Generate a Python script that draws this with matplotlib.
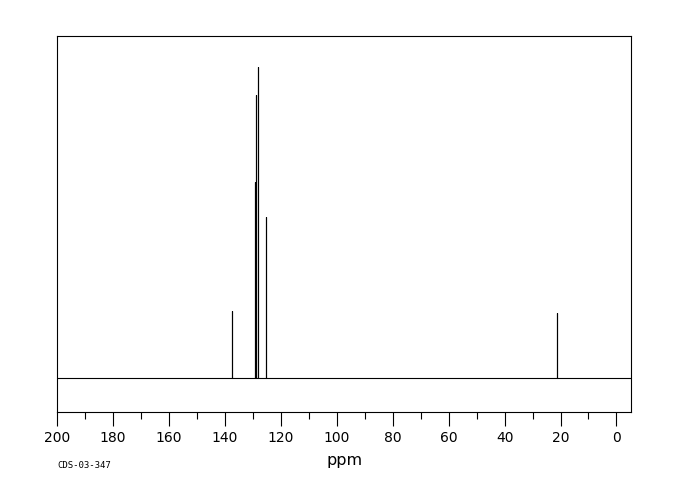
import matplotlib
matplotlib.use("Agg")
import matplotlib.pyplot as plt
from matplotlib.ticker import MultipleLocator

# Peak list (ppm, height above baseline)
peak_ppm = [137.6, 129.2, 128.8, 128.1, 125.4, 21.4]
peak_height = [67, 196, 283, 311, 161, 65]
major_ticks = [200, 180, 160, 140, 120, 100, 80, 60, 40, 20, 0]

x_left, x_right = 200, -5.2

# Build the stick spectrum as one continuous trace along the baseline
xs = [x_left]
ys = [0]
for p, h in sorted(zip(peak_ppm, peak_height), reverse=True):
    xs += [p, p, p]
    ys += [0, h, 0]
xs.append(x_right)
ys.append(0)

fig = plt.figure(figsize=(6.8, 5), dpi=100)
ax = fig.add_axes([57 / 680, 1 - 412 / 500, 574 / 680, 376 / 500])

ax.plot(xs, ys, color="black", linewidth=0.8)

ax.set_xlim(x_left, x_right)
ax.set_ylim(-34, 342)

ax.set_xticks(major_ticks)
ax.xaxis.set_minor_locator(MultipleLocator(10))
ax.tick_params(axis="x", which="major", direction="out", length=10, width=0.8, pad=4, labelsize=10)
ax.tick_params(axis="x", which="minor", direction="out", length=5, width=0.8)
ax.set_yticks([])
for s in ax.spines.values():
    s.set_linewidth(0.8)

fig.text(345 / 680, 1 - 461 / 500, "ppm", ha="center", va="center", fontsize=11.5, color="black")
fig.text(57 / 680, 1 - 465 / 500, "CDS-03-347", ha="left", va="center", fontsize=6.5,
         family="DejaVu Sans Mono")

fig.savefig("out.png", dpi=100)
